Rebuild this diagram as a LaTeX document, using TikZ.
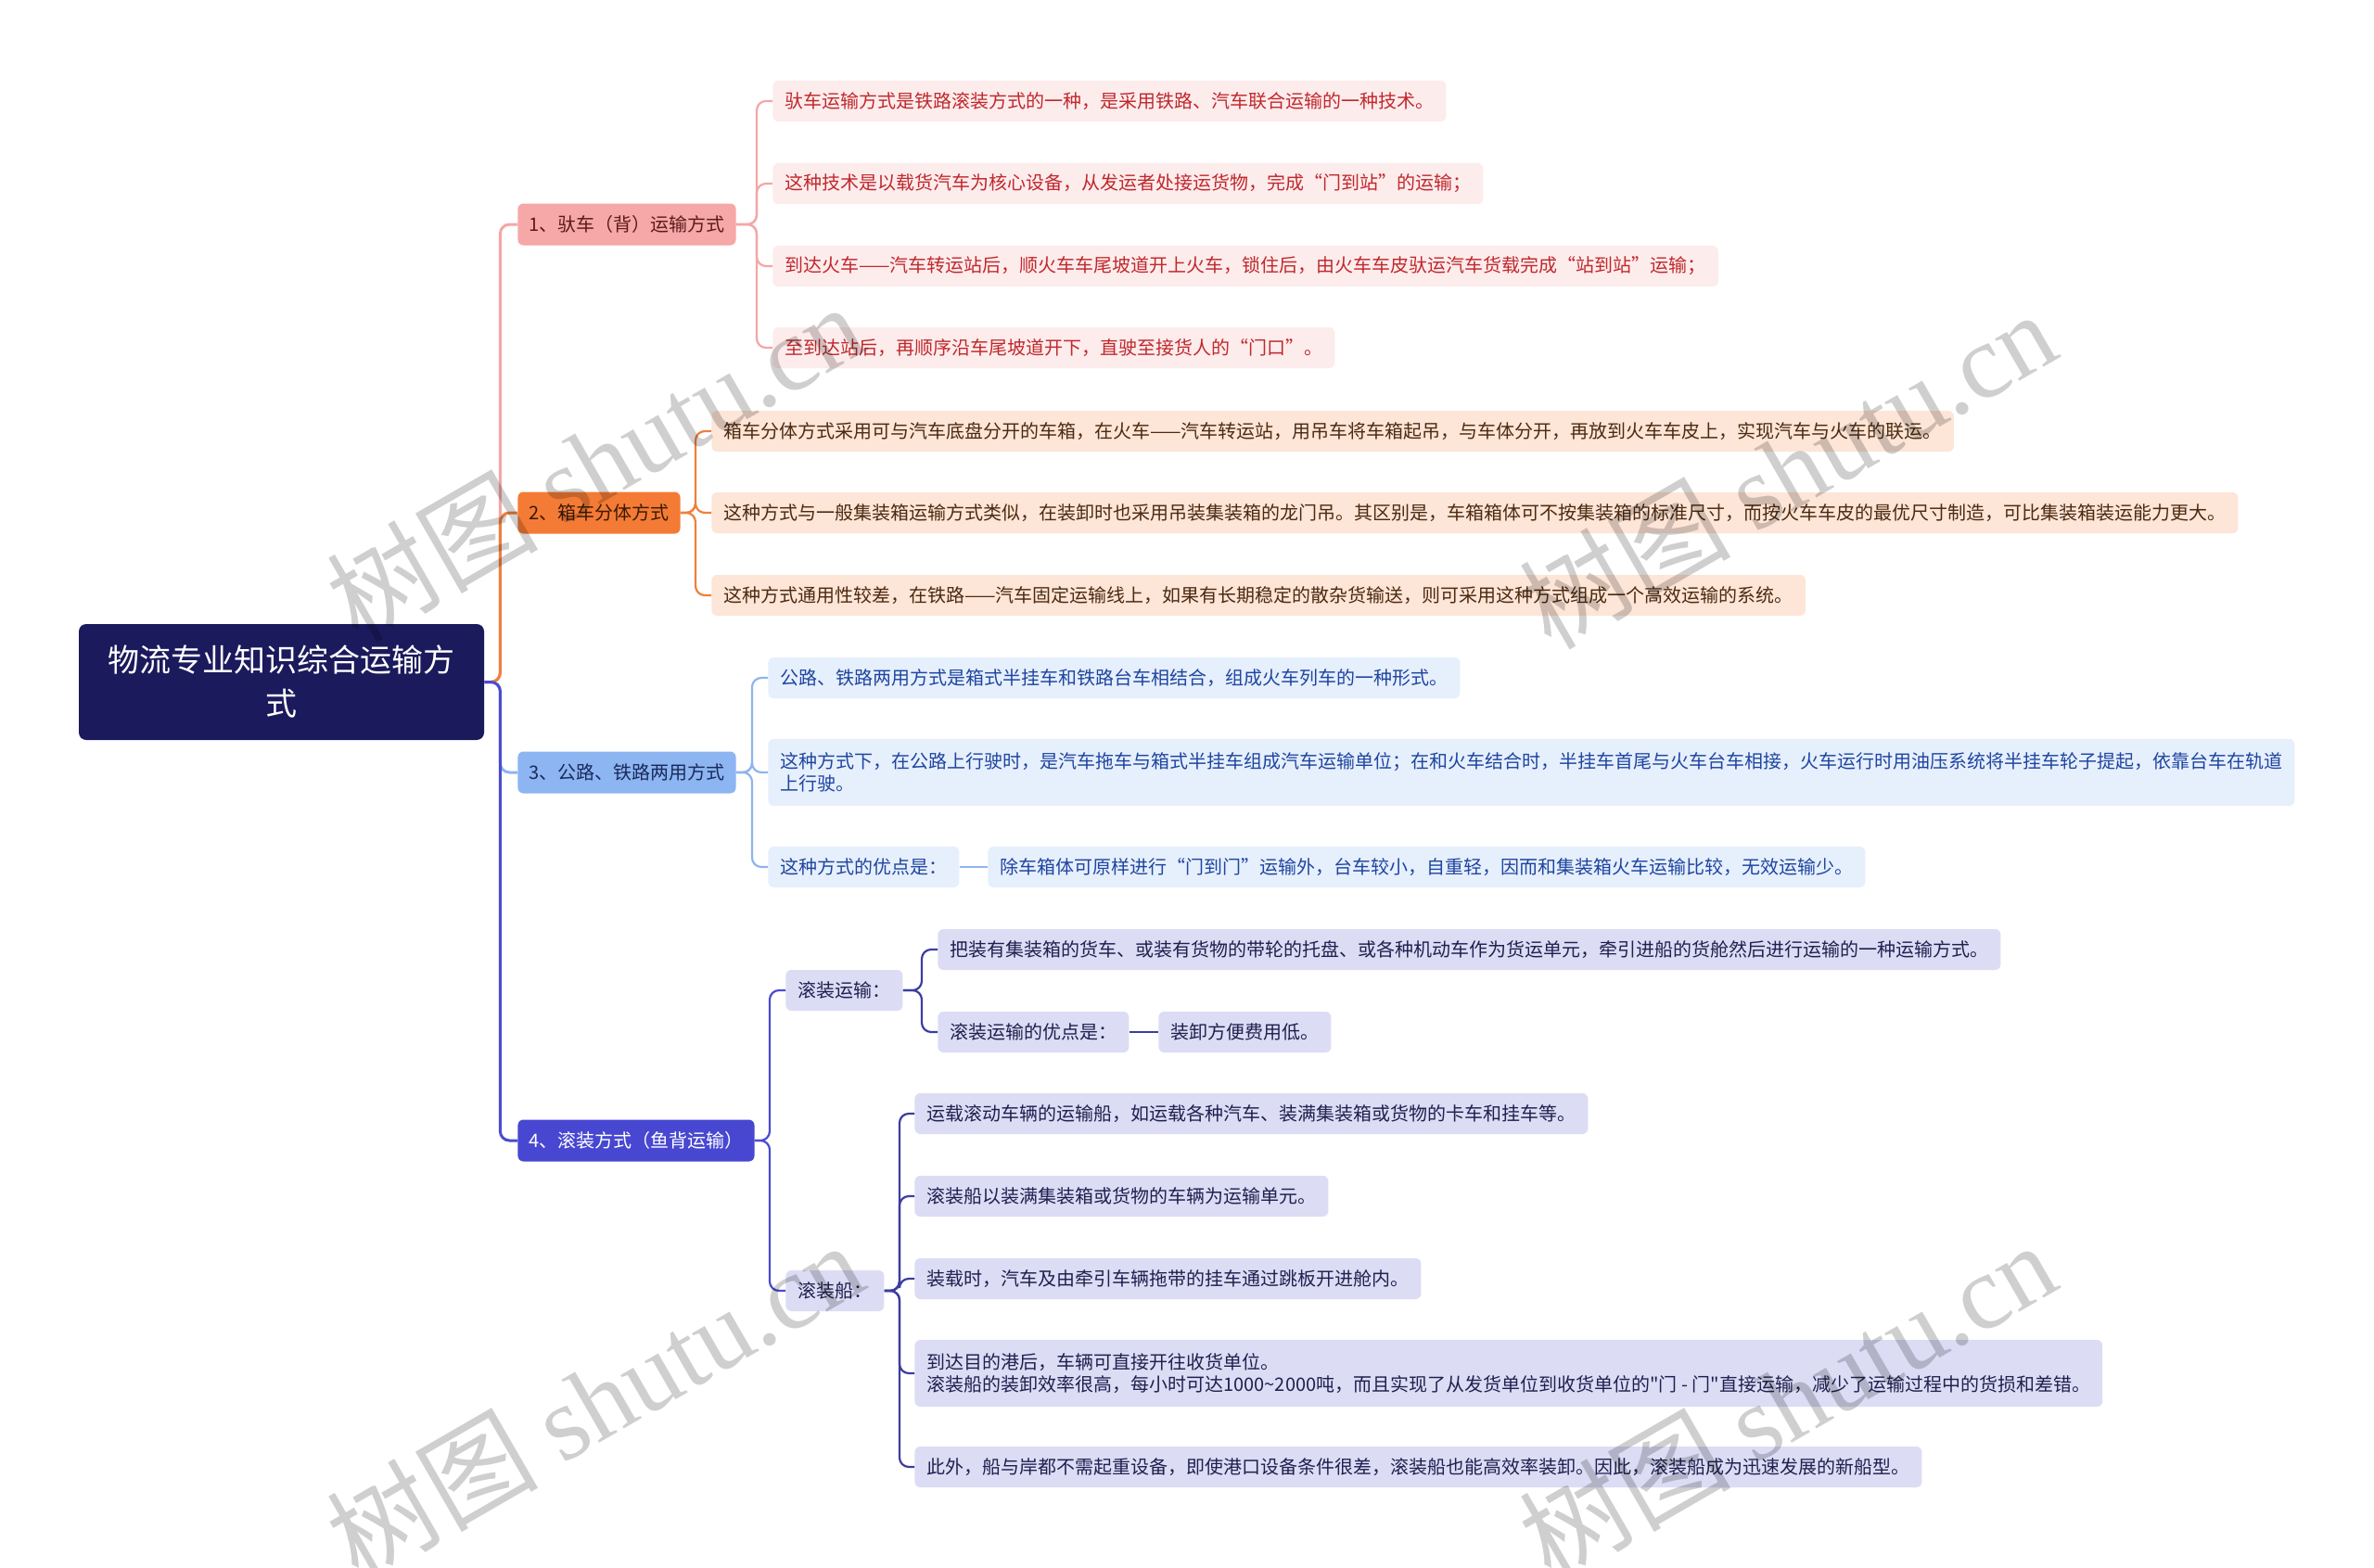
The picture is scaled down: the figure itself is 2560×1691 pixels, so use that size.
\documentclass[tikz,border=0pt]{standalone}
\usepackage{fontspec}
\setmainfont{Noto Sans CJK SC}
\newfontfamily\plainq{Noto Sans CJK SC}
\newfontfamily\wmlat{Liberation Serif}
\definecolor{rootc}{HTML}{1B1A5C}
\definecolor{b1fill}{HTML}{F6A7A7}
\definecolor{b1text}{HTML}{5C1A1A}
\definecolor{l1fill}{HTML}{FDECEC}
\definecolor{l1text}{HTML}{C0282D}
\definecolor{b1line}{HTML}{F4A6A6}
\definecolor{b2fill}{HTML}{F47B35}
\definecolor{b2text}{HTML}{3A1A05}
\definecolor{l2fill}{HTML}{FDE5D7}
\definecolor{l2text}{HTML}{4D2A10}
\definecolor{b2line}{HTML}{F07F3C}
\definecolor{b3fill}{HTML}{8CB5F2}
\definecolor{b3text}{HTML}{1A2A5A}
\definecolor{l3fill}{HTML}{E6EFFC}
\definecolor{l3text}{HTML}{1F45A0}
\definecolor{b3line}{HTML}{8FB4EE}
\definecolor{b4fill}{HTML}{4747D1}
\definecolor{l4fill}{HTML}{DCDCF5}
\definecolor{l4text}{HTML}{20204F}
\definecolor{b4line}{HTML}{4B4BD0}
\definecolor{s4line}{HTML}{3D3DA0}
\begin{document}
\begin{tikzpicture}[x=0.5pt,y=-0.5pt,
  rootbox/.style={fill=rootc, rounded corners=4pt, text=white, font=\fontsize{17}{23.5}\selectfont, align=center, minimum width=218.5pt, minimum height=62.5pt, inner sep=0pt},
  brbox/.style={rounded corners=3pt, minimum height=22.5pt, inner xsep=6pt, inner ysep=0pt, font=\fontsize{10}{12}\selectfont, anchor=west},
  lfbox/.style={rounded corners=3pt, minimum height=22pt, inner xsep=6.5pt, inner ysep=0pt, font=\fontsize{10}{12}\selectfont, anchor=west},
  br1/.style={brbox, fill=b1fill, text=b1text},
  br2/.style={brbox, fill=b2fill, text=b2text},
  br3/.style={brbox, fill=b3fill, text=b3text},
  br4/.style={brbox, fill=b4fill, text=white},
  lf1/.style={lfbox, fill=l1fill, text=l1text},
  lf2/.style={lfbox, fill=l2fill, text=l2text},
  lf3/.style={lfbox, fill=l3fill, text=l3text},
  lf4/.style={lfbox, fill=l4fill, text=l4text},
  mainln/.style={line width=1.5pt, rounded corners=5pt},
  leafln/.style={line width=1.1pt, rounded corners=5pt},
  wmark/.style={text=black, opacity=0.19, rotate=30, font=\fontsize{57}{64}\selectfont}
]
\useasboundingbox (0,0) rectangle (2560,1691);
\fill[white] (0,0) rectangle (2560,1691);

% root
\node[rootbox] (root) at (303.5,735.5) {物流专业知识综合运输方\\式};

% branch 1
\node[br1] (b1) at (558,242) {1、驮车（背）运输方式};
\node[lf1] (l1a) at (833,109) {驮车运输方式是铁路滚装方式的一种，是采用铁路、汽车联合运输的一种技术。};
\node[lf1] (l1b) at (833,198) {这种技术是以载货汽车为核心设备，从发运者处接运货物，完成“门到站”的运输；};
\node[lf1] (l1c) at (833,287) {到达火车——汽车转运站后，顺火车车尾坡道开上火车，锁住后，由火车车皮驮运汽车货载完成“站到站”运输；};
\node[lf1] (l1d) at (833,375) {至到达站后，再顺序沿车尾坡道开下，直驶至接货人的“门口”。};

% branch 2
\node[br2] (b2) at (558,553) {2、箱车分体方式};
\node[lf2] (l2a) at (767,465) {箱车分体方式采用可与汽车底盘分开的车箱，在火车——汽车转运站，用吊车将车箱起吊，与车体分开，再放到火车车皮上，实现汽车与火车的联运。};
\node[lf2] (l2b) at (767,553) {这种方式与一般集装箱运输方式类似，在装卸时也采用吊装集装箱的龙门吊。其区别是，车箱箱体可不按集装箱的标准尺寸，而按火车车皮的最优尺寸制造，可比集装箱装运能力更大。};
\node[lf2] (l2c) at (767,642) {这种方式通用性较差，在铁路——汽车固定运输线上，如果有长期稳定的散杂货输送，则可采用这种方式组成一个高效运输的系统。};

% branch 3
\node[br3] (b3) at (558,833) {3、公路、铁路两用方式};
\node[lf3] (l3a) at (828,731) {公路、铁路两用方式是箱式半挂车和铁路台车相结合，组成火车列车的一种形式。};
\node[lf3, minimum height=36pt, align=left] (l3b) at (828,833) {这种方式下，在公路上行驶时，是汽车拖车与箱式半挂车组成汽车运输单位；在和火车结合时，半挂车首尾与火车台车相接，火车运行时用油压系统将半挂车轮子提起，依靠台车在轨道\\上行驶。};
\node[lf3] (l3c) at (828,935) {这种方式的优点是：};
\node[lf3] (l3d) at (1065,935) {除车箱体可原样进行“门到门”运输外，台车较小，自重轻，因而和集装箱火车运输比较，无效运输少。};

% branch 4
\node[br4] (b4) at (558,1230) {4、滚装方式（鱼背运输）};
\node[lf4] (s4a) at (847,1068) {滚装运输：};
\node[lf4] (l4a) at (1011,1024) {把装有集装箱的货车、或装有货物的带轮的托盘、或各种机动车作为货运单元，牵引进船的货舱然后进行运输的一种运输方式。};
\node[lf4] (l4b) at (1011,1113) {滚装运输的优点是：};
\node[lf4] (l4c) at (1249,1113) {装卸方便费用低。};
\node[lf4] (s4b) at (847,1392) {滚装船：};
\node[lf4] (m1) at (986,1201) {运载滚动车辆的运输船，如运载各种汽车、装满集装箱或货物的卡车和挂车等。};
\node[lf4] (m2) at (986,1290) {滚装船以装满集装箱或货物的车辆为运输单元。};
\node[lf4] (m3) at (986,1379) {装载时，汽车及由牵引车辆拖带的挂车通过跳板开进舱内。};
\node[lf4, minimum height=36pt, align=left] (m4) at (986,1481) {到达目的港后，车辆可直接开往收货单位。\\滚装船的装卸效率很高，每小时可达1000\textasciitilde2000吨，而且实现了从发货单位到收货单位的{\plainq"}门 - 门{\plainq"}直接运输，减少了运输过程中的货损和差错。};
\node[lf4] (m5) at (986,1582) {此外，船与岸都不需起重设备，即使港口设备条件很差，滚装船也能高效率装卸。因此，滚装船成为迅速发展的新船型。};

% main connectors
\draw[mainln, b1line] (root.east) -- ++(17,0) |- (b1.west);
\draw[mainln, b2line] (root.east) -- ++(17,0) |- (b2.west);
\draw[mainln, b3line] (root.east) -- ++(17,0) |- (b3.west);
\draw[mainln, b4line] (root.east) -- ++(17,0) |- (b4.west);

% branch 1 leaves
\foreach \n in {l1a,l1b,l1c,l1d}
  \draw[leafln, b1line] (b1.east) -- ([xshift=-8.5pt]b1.east -| \n.west) |- (\n.west);
% branch 2 leaves
\foreach \n in {l2a,l2b,l2c}
  \draw[leafln, b2line] (b2.east) -- ([xshift=-8.5pt]b2.east -| \n.west) |- (\n.west);
% branch 3 leaves
\foreach \n in {l3a,l3b,l3c}
  \draw[leafln, b3line] (b3.east) -- ([xshift=-8.5pt]b3.east -| \n.west) |- (\n.west);
\draw[leafln, b3line] (l3c.east) -- (l3d.west);
% branch 4
\foreach \n in {s4a,s4b}
  \draw[leafln, b4line] (b4.east) -- ([xshift=-8.5pt]b4.east -| \n.west) |- (\n.west);
\foreach \n in {l4a,l4b}
  \draw[leafln, s4line] (s4a.east) -- ([xshift=-8.5pt]s4a.east -| \n.west) |- (\n.west);
\draw[leafln, s4line] (l4b.east) -- (l4c.west);
\foreach \n in {m1,m2,m3,m4,m5}
  \draw[leafln, s4line] (s4b.east) -- ([xshift=-8pt]s4b.east -| \n.west) |- (\n.west);

% watermarks
\node[wmark] (w1) at (641,498) {树图 {\wmlat shutu.cn}};
\node[wmark] (w2) at (1927,506) {树图 {\wmlat shutu.cn}};
\node[wmark] (w3) at (641,1510) {树图 {\wmlat shutu.cn}};
\node[wmark] (w4) at (1927,1510) {树图 {\wmlat shutu.cn}};
\end{tikzpicture}
\end{document}
